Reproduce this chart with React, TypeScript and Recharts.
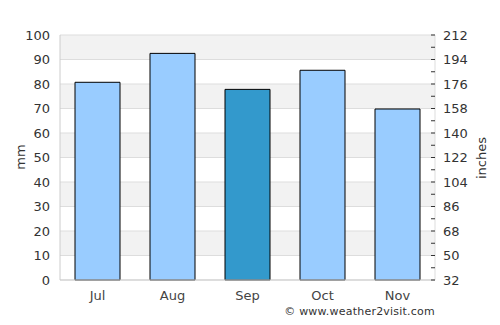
import React from 'react';
import {
  BarChart,
  Bar,
  XAxis,
  YAxis,
  CartesianGrid,
  Cell,
  Label,
} from 'recharts';

const MONTHS = ['Jul', 'Aug', 'Sep', 'Oct', 'Nov'];
const RAINFALL_MM = [80.7, 92.5, 77.8, 85.6, 69.8];
const HIGHLIGHT_MONTH = 'Sep';

const LEFT_TICKS = [0, 10, 20, 30, 40, 50, 60, 70, 80, 90, 100];
const RIGHT_TICKS = [0, 5, 10, 15, 20, 25, 30, 35, 40, 45, 50, 55, 60, 65, 70, 75, 80, 85, 90, 95, 100];
const RIGHT_LABELS = ['32', '50', '68', '86', '104', '122', '140', '158', '176', '194', '212'];

const BAR_COLOR = '#99ccff';
const HIGHLIGHT_COLOR = '#3399cc';
const FONT = '"DejaVu Sans", sans-serif';

const data = MONTHS.map((month, i) => ({ month, mm: RAINFALL_MM[i] }));

interface TickProps {
  x?: number;
  y?: number;
  payload?: { value: number };
}

// right axis: small inner ticks every 5, labels only on the 10s
function RightTick({ x = 0, y = 0, payload }: TickProps) {
  const v = payload?.value ?? 0;
  const label = v % 10 === 0 ? RIGHT_LABELS[LEFT_TICKS.indexOf(v)] : null;
  return (
    <g>
      <line x1={x - 12} x2={x - 8} y1={y} y2={y} stroke="#333" strokeWidth={1} />
      {label && (
        <text x={x} y={y} dy="0.36em" textAnchor="start" fill="#333" fontSize={13} fontFamily={FONT}>
          {label}
        </text>
      )}
    </g>
  );
}

export default function App() {
  return (
    <div style={{ position: 'absolute', left: 0, top: 0, width: 500, height: 325, background: '#fff', fontFamily: FONT }}>
      <BarChart
        width={500}
        height={325}
        data={data}
        margin={{ top: 35, right: 0, left: 0, bottom: 15 }}
        barCategoryGap="20%"
      >
        <CartesianGrid
          yAxisId="left"
          vertical={false}
          stroke="#dddddd"
          horizontalFill={['#f2f2f2', '#ffffff']}
          fillOpacity={1}
        />
        <XAxis
          dataKey="month"
          height={30}
          axisLine={{ stroke: '#cccccc' }}
          tickLine={false}
          tickMargin={5}
          tick={{ fill: '#444', fontSize: 13, fontFamily: FONT }}
        />
        <YAxis
          yAxisId="left"
          domain={[0, 100]}
          ticks={LEFT_TICKS}
          width={60}
          axisLine={{ stroke: '#cccccc' }}
          tickLine={false}
          tickMargin={4}
          tick={{ fill: '#333', fontSize: 13, fontFamily: FONT }}
        >
          <Label
            content={() => (
              <text
                x={20}
                y={157}
                transform="rotate(-90 20 157)"
                textAnchor="middle"
                dominantBaseline="central"
                fill="#333"
                fontSize={13}
                fontFamily={FONT}
              >
                mm
              </text>
            )}
          />
        </YAxis>
        <YAxis
          yAxisId="right"
          orientation="right"
          type="number"
          domain={[0, 100]}
          allowDataOverflow
          ticks={RIGHT_TICKS}
          interval={0}
          width={65}
          axisLine={{ stroke: '#dddddd' }}
          tickLine={false}
          tick={(props: TickProps) => <RightTick {...props} />}
        >
          <Label
            content={() => (
              <text
                x={481}
                y={158}
                transform="rotate(-90 481 158)"
                textAnchor="middle"
                dominantBaseline="central"
                fill="#333"
                fontSize={13}
                fontFamily={FONT}
              >
                inches
              </text>
            )}
          />
        </YAxis>
        <Bar yAxisId="left" dataKey="mm" stroke="#000" strokeWidth={1} isAnimationActive={false}>
          {data.map((d) => (
            <Cell key={d.month} fill={d.month === HIGHLIGHT_MONTH ? HIGHLIGHT_COLOR : BAR_COLOR} />
          ))}
        </Bar>
      </BarChart>
      <div
        style={{
          position: 'absolute',
          right: 65,
          top: 305,
          fontSize: 11,
          color: '#333',
          whiteSpace: 'nowrap',
          letterSpacing: '0.02em',
        }}
      >
        © www.weather2visit.com
      </div>
    </div>
  );
}
